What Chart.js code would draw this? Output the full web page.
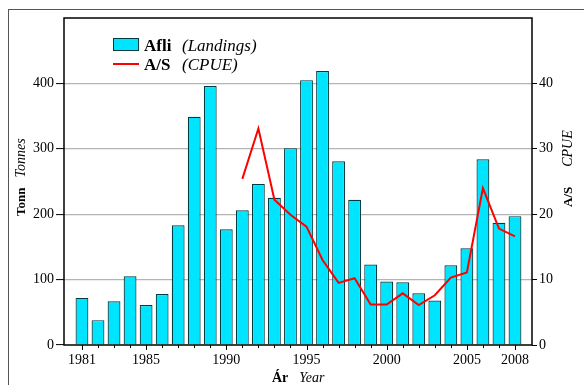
<!DOCTYPE html>
<html><head><meta charset="utf-8">
<script src="https://cdn.jsdelivr.net/npm/chart.js@4"></script>
<style>html,body{margin:0;padding:0;background:#fff}#wrap{width:584px;height:385px;position:relative}</style>
</head><body><div id="wrap"><canvas id="c" width="584" height="385"></canvas></div>
<script>
const years = [1981,1982,1983,1984,1985,1986,1987,1988,1989,1990,1991,1992,1993,1994,1995,1996,1997,1998,1999,2000,2001,2002,2003,2004,2005,2006,2007,2008];
const landings = [72,38,67,105,61,78,183,349,396,177,206,246,225,301,405,419,281,222,123,97,96,79,68,122,148,284,187,197];
const cpueYears = [1991,1992,1993,1994,1995,1996,1997,1998,1999,2000,2001,2002,2003,2004,2005,2006,2007,2008];
const cpue = [25.4,33.1,22.2,19.9,18.1,13.0,9.5,10.2,6.2,6.2,7.9,6.1,7.6,10.3,11.1,24.0,17.8,16.6];
const labeledYears = [1981,1985,1990,1995,2000,2005,2008];
const leftTicks = [0,100,200,300,400,500];
const rightTicks = [0,10,20,30,40,50];

const CYAN = '#00E5FF';
const SERIF = '"Liberation Serif","DejaVu Serif",serif';

function drawParts(ctx, x, y, parts){
  let cx = x;
  for (const p of parts){
    ctx.font = p.font;
    ctx.fillText(p.t, cx, y);
    cx += ctx.measureText(p.t).width + (p.gap||0);
  }
}

const deco = {
  id:'deco',
  beforeDraw(chart){
    const ctx = chart.ctx;
    ctx.save();
    ctx.fillStyle = '#fff';
    ctx.fillRect(0,0,chart.width,chart.height);
    ctx.strokeStyle = '#555';
    ctx.lineWidth = 1;
    ctx.strokeRect(8.5, 9.5, 620, 420);
    ctx.restore();
  },
  afterDraw(chart){
    const {ctx, chartArea:a} = chart;
    const xs = chart.scales.x;
    ctx.save();
    // x tick marks (major longer than minor)
    ctx.strokeStyle = '#000';
    ctx.lineWidth = 1;
    for (const yr of years){
      const px = Math.round(xs.getPixelForValue(yr)) + 0.5;
      const len = labeledYears.includes(yr) ? 5 : 3;
      ctx.beginPath(); ctx.moveTo(px, a.bottom); ctx.lineTo(px, a.bottom + len); ctx.stroke();
    }
    ctx.strokeStyle = '#000';
    ctx.lineWidth = 1.5;
    ctx.strokeRect(a.left, a.top, a.right-a.left, a.bottom-a.top);
    ctx.fillStyle = '#000';
    ctx.textBaseline = 'alphabetic';
    ctx.textAlign = 'left';
    // legend
    ctx.fillStyle = CYAN;
    ctx.fillRect(113.5, 38.5, 25, 12);
    ctx.strokeStyle = '#003c40';
    ctx.lineWidth = 1;
    ctx.strokeRect(113.5, 38.5, 25, 12);
    ctx.strokeStyle = '#ff0000';
    ctx.lineWidth = 2;
    ctx.beginPath(); ctx.moveTo(113, 64); ctx.lineTo(139, 64); ctx.stroke();
    ctx.fillStyle = '#000';
    ctx.font = 'bold 17px ' + SERIF; ctx.fillText('Afli', 144, 51);
    ctx.font = 'italic 17px ' + SERIF; ctx.fillText('(Landings)', 182, 51);
    ctx.font = 'bold 17px ' + SERIF; ctx.fillText('A/S', 144, 70);
    ctx.font = 'italic 17px ' + SERIF; ctx.fillText('(CPUE)', 182, 70);
    // left title
    ctx.save();
    ctx.translate(25, 216); ctx.rotate(-Math.PI/2);
    drawParts(ctx, 0, 0, [{t:'Tonn', font:'bold 13px '+SERIF, gap:10},{t:'Tonnes', font:'italic 14px '+SERIF}]);
    ctx.restore();
    // right title
    ctx.save();
    ctx.translate(572, 207); ctx.rotate(-Math.PI/2);
    drawParts(ctx, 0, 0, [{t:'A/S', font:'bold 13px '+SERIF, gap:20},{t:'CPUE', font:'italic 14px '+SERIF}]);
    ctx.restore();
    // bottom title
    drawParts(ctx, 272, 382, [{t:'Ár', font:'bold 14px '+SERIF, gap:11},{t:'Year', font:'italic 14px '+SERIF}]);
    ctx.restore();
  }
};

Chart.defaults.font.family = SERIF;
Chart.defaults.color = '#000';

new Chart(document.getElementById('c'), {
  data: {
    datasets: [
      {
        type:'line', label:'A/S (CPUE)', yAxisID:'y2', order:0,
        data: cpueYears.map((x,i)=>({x, y:cpue[i]})),
        borderColor:'#ff0000', borderWidth:2, pointRadius:0, tension:0, fill:false
      },
      {
        type:'bar', label:'Afli (Landings)', yAxisID:'y', order:1,
        data: years.map((x,i)=>({x, y:landings[i]})),
        backgroundColor: CYAN, borderColor:'#003c40', borderWidth:1.2,
        barPercentage:0.8, categoryPercentage:1.0
      }
    ]
  },
  options: {
    responsive:false, animation:false, devicePixelRatio:1,
    layout:{padding:{top:18, left:0, right:0, bottom:0}},
    plugins:{legend:{display:false}, tooltip:{enabled:false}},
    scales:{
      x:{
        type:'linear', min:1979.88, max:2009.06, offset:false,
        afterBuildTicks(s){ s.ticks = years.map(v=>({value:v})); },
        afterFit(s){ s.height = 40; },
        ticks:{ autoSkip:false, maxRotation:0, minRotation:0, padding:7,
          font:{size:14, family:SERIF}, color:'#000',
          callback:(v)=> labeledYears.includes(v) ? String(v) : '' },
        grid:{ drawOnChartArea:false, drawTicks:false },
        border:{ display:false }
      },
      y:{
        type:'linear', position:'left', min:0, max:500,
        afterBuildTicks(s){ s.ticks = leftTicks.map(v=>({value:v})); },
        afterFit(s){ s.width = 64; },
        ticks:{ padding:2, font:{size:14, family:SERIF}, color:'#000',
          callback:(v)=> v===500 ? '' : String(v) },
        grid:{ color:(c)=> (c.tick && (c.tick.value===0 || c.tick.value===500)) ? 'rgba(0,0,0,0)' : '#b4b4b4',
          lineWidth:1.2, tickLength:8,
          tickColor:(c)=> (c.tick && c.tick.value===500) ? 'rgba(0,0,0,0)' : '#000', tickWidth:1 },
        border:{ display:false }
      },
      y2:{
        type:'linear', position:'right', min:0, max:50,
        afterBuildTicks(s){ s.ticks = rightTicks.map(v=>({value:v})); },
        afterFit(s){ s.width = 52; },
        ticks:{ padding:2, font:{size:14, family:SERIF}, color:'#000',
          callback:(v)=> v===50 ? '' : String(v) },
        grid:{ drawOnChartArea:false, tickLength:5,
          tickColor:(c)=> (c.tick && c.tick.value===50) ? 'rgba(0,0,0,0)' : '#000', tickWidth:1 },
        border:{ display:false }
      }
    }
  },
  plugins:[deco]
});
</script>
</body></html>
